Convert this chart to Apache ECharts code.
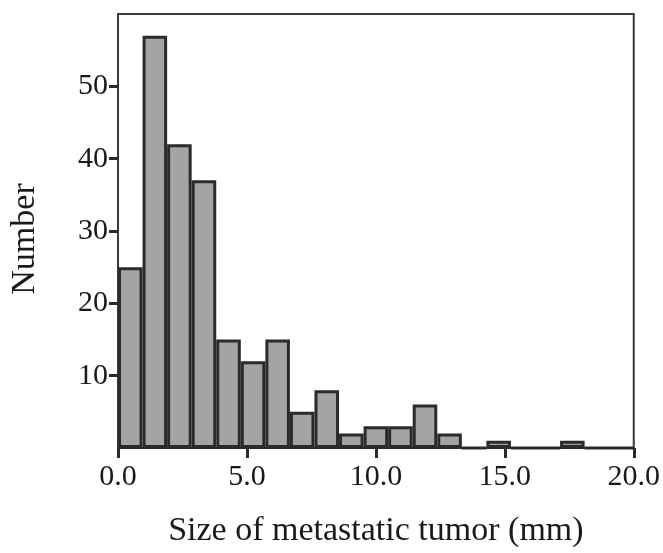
<!DOCTYPE html>
<html>
<head>
<meta charset="utf-8">
<script src="https://cdn.jsdelivr.net/npm/echarts@6/dist/echarts.min.js"></script>
<style>
  html, body { margin: 0; padding: 0; background: #fff; }
  #chart { width: 663px; height: 553px; }
</style>
</head>
<body>
<div id="chart"></div>
<script>
// histogram bins (21 bins spread over 0..20 mm)
var bins = ['b0','b1','b2','b3','b4','b5','b6','b7','b8','b9','b10',
            'b11','b12','b13','b14','b15','b16','b17','b18','b19','b20'];
var counts = [25, 57, 42, 37, 15, 12, 15, 5, 8, 2, 3, 3, 6, 2, 0, 1, 0, 0, 1, 0, 0];
var xTicks = [0, 5, 10, 15, 20];
var yTicks = [10, 20, 30, 40, 50];

var font = 'Liberation Serif';
var dom = document.getElementById('chart');
var myChart = echarts.init(dom, null, { renderer: 'canvas' });

var option = {
  animation: false,
  backgroundColor: '#fff',
  grid: {
    left: 118, right: 28, top: 14, bottom: 101,
    show: true, borderColor: '#3a3a3a', borderWidth: 2
  },
  xAxis: [
    {
      type: 'category',
      data: bins,
      show: false,
      boundaryGap: true
    },
    {
      type: 'value',
      position: 'bottom',
      min: xTicks[0],
      max: xTicks[xTicks.length - 1],
      interval: 5,
      splitLine: { show: false },
      axisLine: { show: true, lineStyle: { color: '#2a2a2a', width: 2 } },
      axisTick: { show: true, inside: false, length: 10, lineStyle: { color: '#2a2a2a', width: 3 } },
      axisLabel: {
        margin: 14,
        fontFamily: font, fontSize: 30, color: '#1a1a1a',
        formatter: function (v) { return v.toFixed(1); }
      },
      name: 'Size of metastatic tumor (mm)',
      nameLocation: 'middle',
      nameGap: 66,
      nameTextStyle: { fontFamily: font, fontSize: 34, color: '#1a1a1a' }
    }
  ],
  yAxis: {
    type: 'value',
    min: 0, max: 60, interval: 10,
    splitLine: { show: false },
    axisLine: { show: true, lineStyle: { color: '#3a3a3a', width: 2 } },
    axisTick: {
      show: true, inside: false, length: 9, customValues: yTicks,
      lineStyle: { color: '#2a2a2a', width: 3 }
    },
    axisLabel: {
      margin: 10, customValues: yTicks,
      fontFamily: font, fontSize: 30, color: '#1a1a1a'
    },
    name: 'Number',
    nameLocation: 'middle',
    nameGap: 76,
    nameRotate: 90,
    nameTextStyle: { fontFamily: font, fontSize: 34, color: '#1a1a1a', padding: [0, 16, 0, 0] }
  },
  series: [
    {
      type: 'bar',
      xAxisIndex: 0,
      data: counts,
      barCategoryGap: 0,
      itemStyle: { color: '#a4a4a4', borderColor: '#2b2b2b', borderWidth: 3 }
    }
  ]
};
myChart.setOption(option);
window.addEventListener('resize', myChart.resize);
</script>
</body>
</html>
